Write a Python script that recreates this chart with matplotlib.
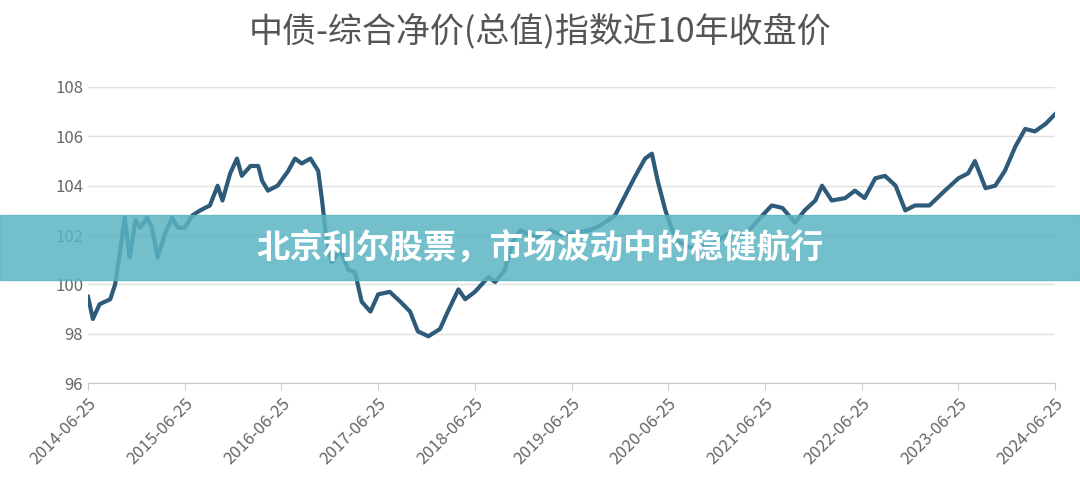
import matplotlib.pyplot as plt

plt.rcParams['font.family'] = ['Noto Sans CJK SC', 'DejaVu Sans']

title = '中债-综合净价(总值)指数近10年收盘价'
banner = '北京利尔股票，市场波动中的稳健航行'
tick_labels = ['2014-06-25', '2015-06-25', '2016-06-25', '2017-06-25', '2018-06-25',
               '2019-06-25', '2020-06-25', '2021-06-25', '2022-06-25', '2023-06-25', '2024-06-25']

# years since 2014-06-25, index close
years = [0.0, 0.05, 0.12, 0.23, 0.28, 0.33, 0.38, 0.43, 0.49, 0.54, 0.61, 0.66, 0.72, 0.80, 0.87,
         0.93, 1.0, 1.08, 1.16, 1.26, 1.34, 1.39, 1.47, 1.54, 1.59, 1.68, 1.76, 1.80, 1.86, 1.96,
         2.07, 2.14, 2.21, 2.30, 2.38, 2.42, 2.46, 2.52, 2.61, 2.69, 2.76, 2.83, 2.92, 3.0, 3.12,
         3.23, 3.33, 3.41, 3.52, 3.64, 3.72, 3.83, 3.90, 4.0, 4.14, 4.21, 4.31, 4.39, 4.47, 4.57,
         4.68, 4.78, 4.89, 5.04, 5.19, 5.30, 5.45, 5.58, 5.66, 5.76, 5.83, 5.89, 5.97, 6.04, 6.12,
         6.23, 6.33, 6.48, 6.64, 6.79, 6.95, 7.07, 7.18, 7.31, 7.41, 7.52, 7.59, 7.69, 7.83, 7.93,
         8.03, 8.14, 8.24, 8.35, 8.45, 8.55, 8.70, 8.86, 9.0, 9.10, 9.17, 9.28, 9.38, 9.48, 9.59,
         9.69, 9.79, 9.90, 10.0]
values = [99.5, 98.6, 99.2, 99.4, 100.0, 101.3, 102.7, 101.1, 102.6, 102.3, 102.7, 102.3, 101.1,
          102.1, 102.7, 102.3, 102.3, 102.8, 103.0, 103.2, 104.0, 103.4, 104.5, 105.1, 104.4,
          104.8, 104.8, 104.2, 103.8, 104.0, 104.6, 105.1, 104.9, 105.1, 104.6, 103.4, 102.0,
          100.9, 101.4, 100.6, 100.5, 99.3, 98.9, 99.6, 99.7, 99.3, 98.9, 98.1, 97.9, 98.2, 98.9,
          99.8, 99.4, 99.7, 100.3, 100.1, 100.6, 101.7, 102.2, 102.0, 101.9, 102.2, 102.0, 102.1,
          102.2, 102.4, 102.8, 103.8, 104.4, 105.1, 105.3, 104.2, 103.0, 102.2, 101.7, 101.5,
          101.5, 101.7, 102.1, 102.0, 102.7, 103.2, 103.1, 102.5, 103.0, 103.4, 104.0, 103.4,
          103.5, 103.8, 103.5, 104.3, 104.4, 104.0, 103.0, 103.2, 103.2, 103.8, 104.3, 104.5,
          105.0, 103.9, 104.0, 104.6, 105.6, 106.3, 106.2, 106.5, 106.9]

fig = plt.figure(figsize=(10.8, 4.97), dpi=100)
ax = fig.add_axes([0.0815, 0.229, 0.8955, 0.596])
ax.plot(years, values, color='#2e5b7a', lw=3, solid_joinstyle='round')
ax.set_xlim(0, 10)
ax.set_ylim(96, 108)
ax.set_yticks(range(96, 109, 2))
ax.set_xticks(range(11))
ax.set_xticklabels(tick_labels, rotation=45, ha='right', rotation_mode='anchor')
ax.tick_params(axis='both', colors='#666666', labelsize=12, length=0)
ax.tick_params(axis='x', length=5, color='#cccccc')
ax.grid(axis='y', color='#e0e0e0', lw=1)
for s in ['top', 'right', 'left']:
    ax.spines[s].set_visible(False)
ax.spines['bottom'].set_color('#cccccc')

fig.text(0.5, 0.935, title, ha='center', va='center', fontsize=24.5, color='#555555')

# banner
fig.patches.append(plt.Rectangle((0, 0.437), 1, 0.131, transform=fig.transFigure,
                                 color='#5ab4c2', alpha=0.85, zorder=5))
fig.text(0.5, 0.502, banner, ha='center', va='center', fontsize=24, color='white',
         fontweight='bold', zorder=6)

fig.savefig('out.png', dpi=100)
